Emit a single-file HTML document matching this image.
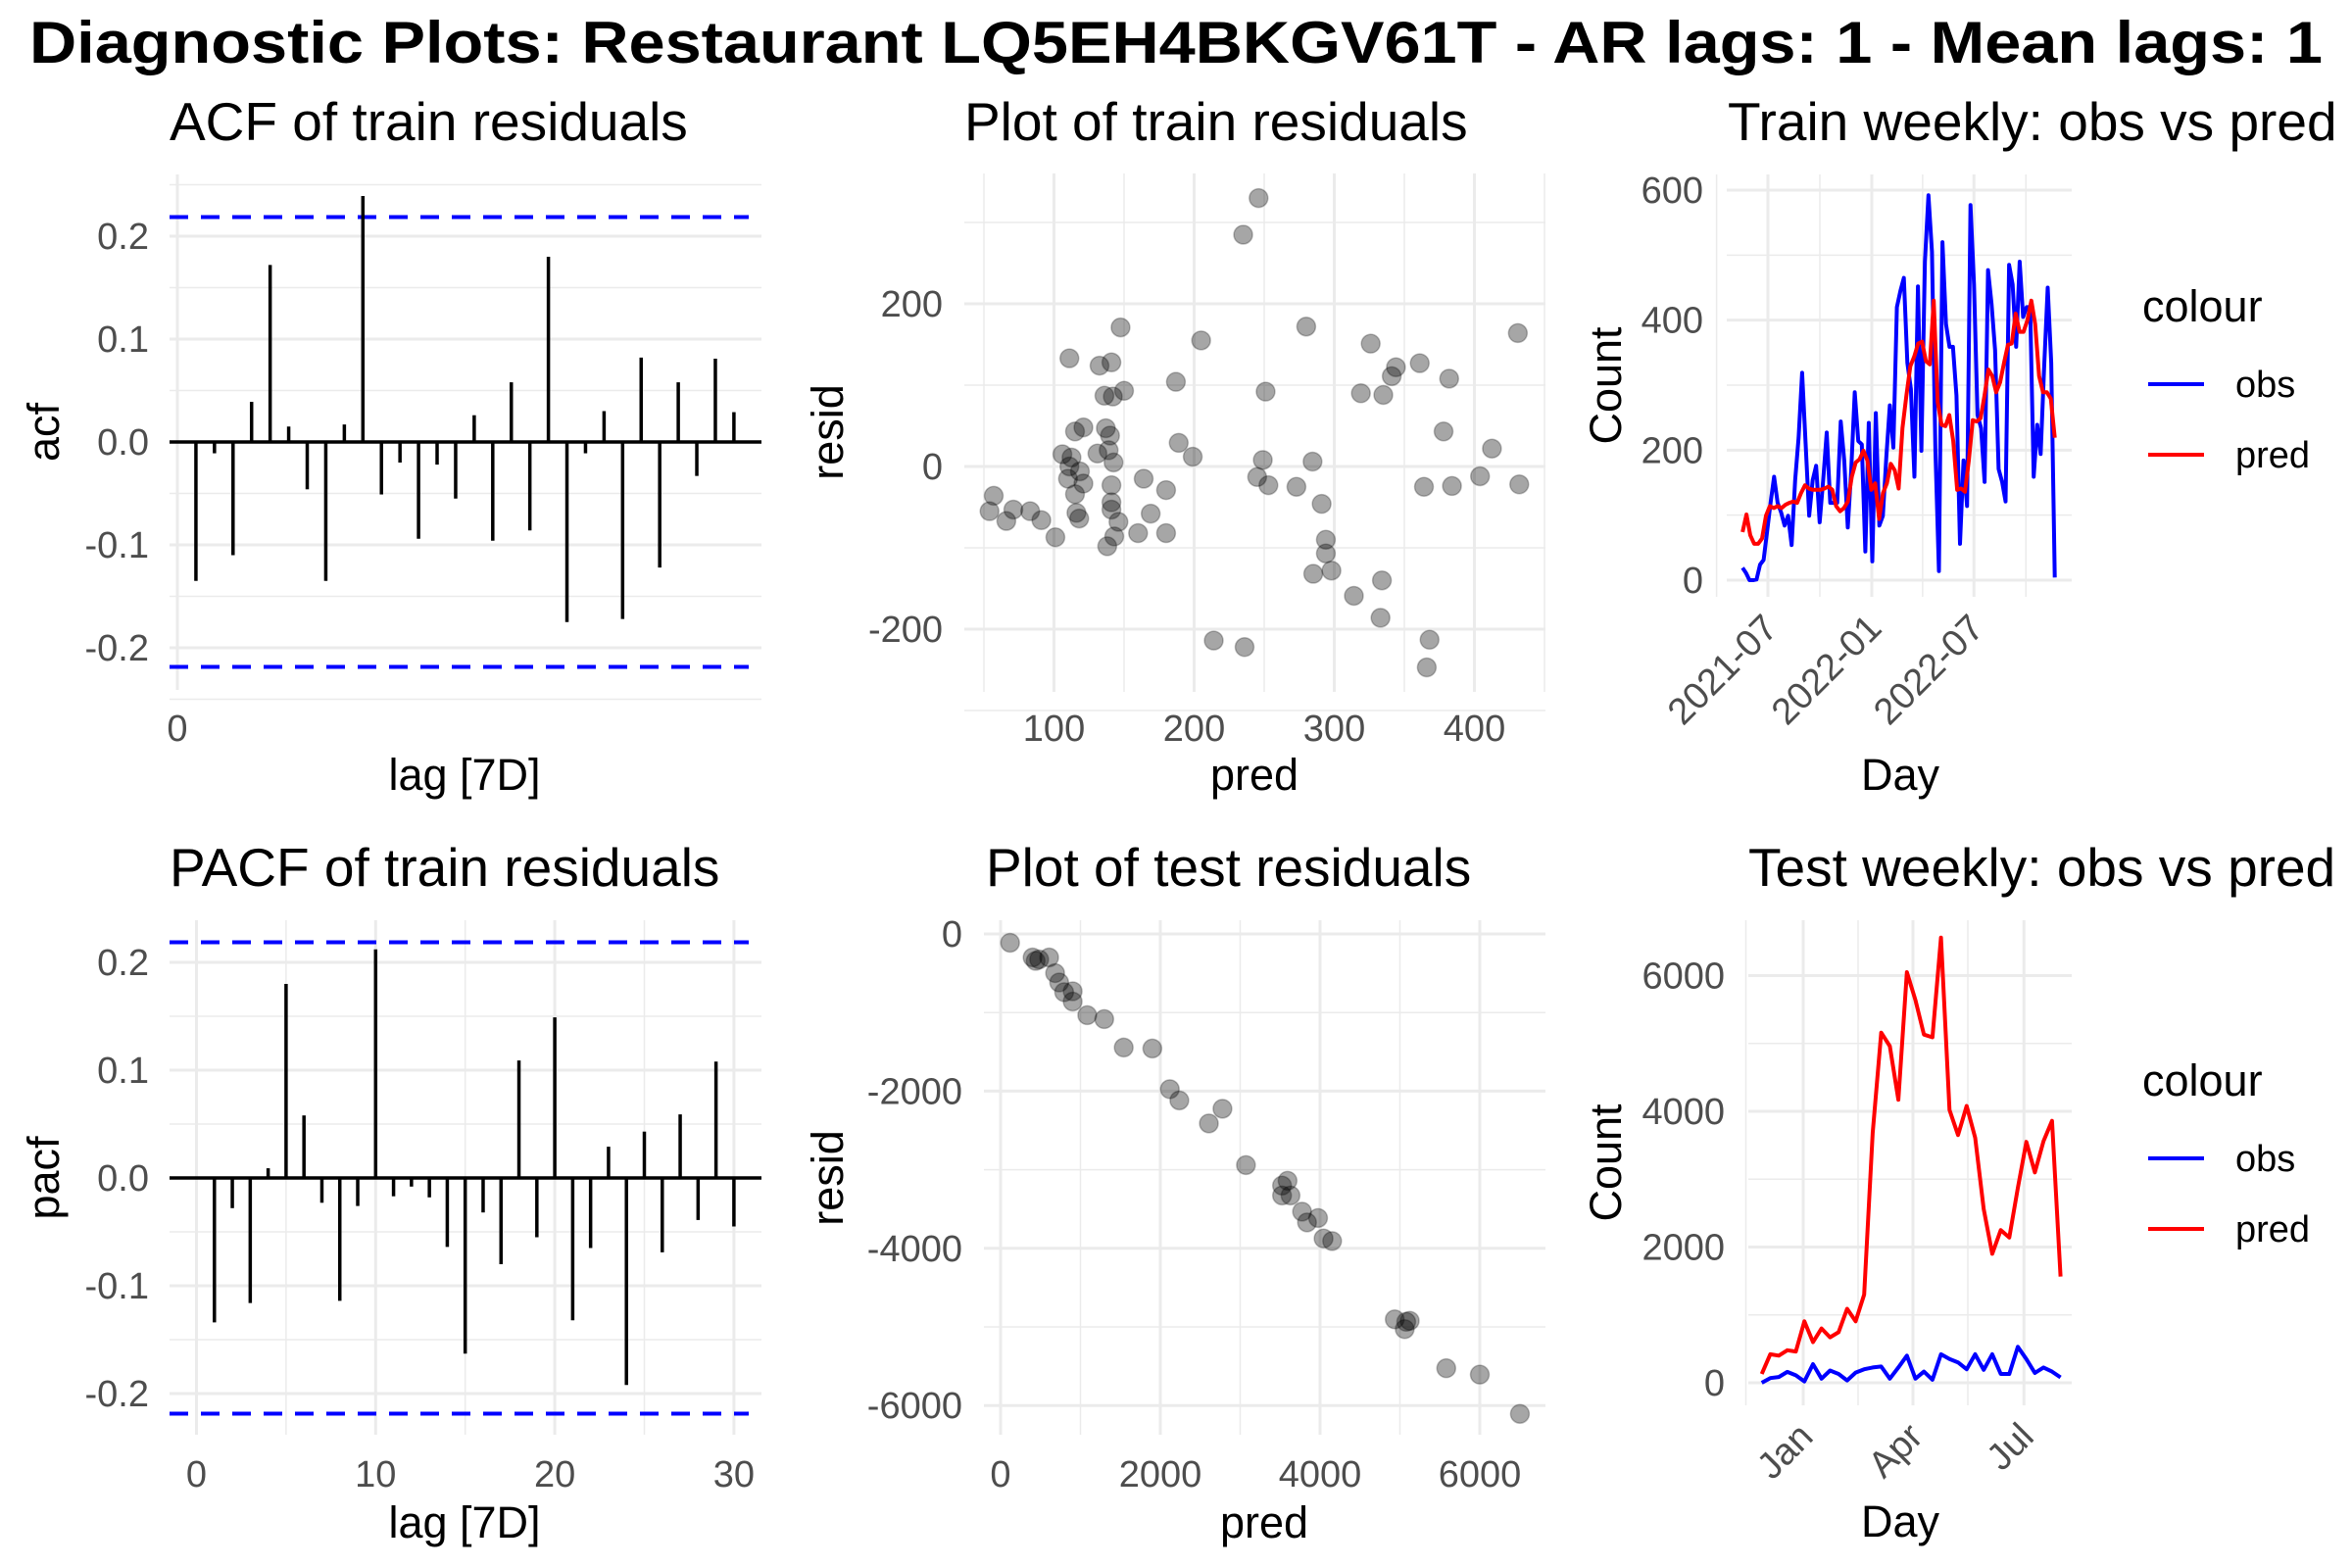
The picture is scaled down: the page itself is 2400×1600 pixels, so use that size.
<!DOCTYPE html>
<html><head><meta charset="utf-8">
<style>
html,body{margin:0;padding:0;background:#fff;}
svg{display:block;font-family:"Liberation Sans",Arial,sans-serif;}
</style></head>
<body>
<svg id="root" width="2400" height="1600" viewBox="0 0 2400 1600" xmlns="http://www.w3.org/2000/svg">
<rect width="2400" height="1600" fill="#ffffff"/>
<text x="1200" y="64" text-anchor="middle" font-size="60" font-weight="bold" textLength="2340" lengthAdjust="spacingAndGlyphs">Diagnostic Plots: Restaurant LQ5EH4BKGV61T - AR lags: 1 - Mean lags: 1</text>
</svg>
<script>
// ---------- DATA ----------
const acfLags = [1,2,3,4,5,6,7,8,9,10,11,12,13,14,15,16,17,18,19,20,21,22,23,24,25,26,27,28,29,30];
const acfValues = [-0.135,-0.011,-0.110,0.039,0.172,0.015,-0.046,-0.135,0.017,0.239,-0.051,-0.020,-0.094,-0.022,-0.055,0.026,-0.096,0.058,-0.086,0.180,-0.175,-0.011,0.030,-0.172,0.082,-0.122,0.058,-0.033,0.081,0.029];
const pacfValues = [-0.134,-0.028,-0.116,0.009,0.180,0.058,-0.023,-0.114,-0.026,0.212,-0.017,-0.008,-0.018,-0.064,-0.163,-0.032,-0.080,0.109,-0.055,0.149,-0.132,-0.065,0.029,-0.192,0.043,-0.069,0.059,-0.039,0.108,-0.045];
const ciBound = 0.2186;
const acfYTicks = [-0.2,-0.1,0.0,0.1,0.2];
const acfYTickLabels = ["-0.2","-0.1","0.0","0.1","0.2"];
const pacfXTicks = [0,10,20,30];

const trainPred = [246,235,147.5,205,280,326,431,111,132.5,141,361,344,341,382,187,150,251,136,142,319,335,121,115,137,140,378,189,131,139,106,112.5,199,249,284.5,412.5,142.5,111,118.5,110,121,164,245,253,273,404,364,384,432,141,180,115,57,291,141,141,54,71,83,116,169,66,91,118,146,101,160,180,143,138,294,294,298,285,334,314,333,214,236,368,366];
const trainResid = [330,285,171,155,172,151,164,133,124,128,127,122,111,108,104,93,92,87,86,90,88,48,43,47,38,43,29,16,20,15,11,12,8,6,22,5,0,-6,-15,-21,-15,-13,-23,-25,-12,-25,-24,-22,-23,-29,-34,-36,-46,-44,-53,-55,-53,-55,-57,-58,-67,-66,-64,-68,-87,-82,-82,-86,-98,-90,-107,-128,-132,-140,-159,-186,-214,-222,-213,-247];
const trainXTicks = [100,200,300,400];
const trainYTicks = [-200,0,200];

const testPred = [119,401,439,483,608,683,734,796,903,903,1085,1298,1542,1900,2119,2238,2608,2778,3072,3524,3593,3524,3630,3775,3837,3975,4044,4151,4935,5060,5079,5123,5580,6000,6502];
const testResid = [-112,-299,-343,-324,-299,-498,-617,-741,-729,-860,-1034,-1084,-1445,-1458,-1975,-2118,-2411,-2224,-2941,-3202,-3140,-3327,-3327,-3533,-3670,-3614,-3875,-3907,-4904,-5028,-4935,-4922,-5526,-5607,-6106];
const testXTicks = [0,2000,4000,6000];
const testYTicks = [-6000,-4000,-2000,0];

const trainStart = "2021-05-17", trainEnd = "2022-11-21";
const trainObs = [19,11,0,0,1,24,31,74,119,159,119,104,84,99,54,154,219,319,209,99,154,176,89,154,227,119,119,119,244,184,81,169,289,214,209,44,242,29,257,84,99,189,269,204,420,445,465,334,294,159,452,199,490,592,505,199,14,520,394,359,359,284,56,184,114,577,455,254,234,151,477,425,354,171,151,121,485,455,359,490,405,420,420,159,239,194,329,450,334,4];
const trainPredLine = [74,101,69,56,56,64,99,114,111,114,111,116,119,121,119,134,146,141,139,139,139,141,144,139,114,106,111,121,159,181,186,199,184,139,149,94,134,149,179,169,141,234,284,329,344,364,367,337,332,430,274,239,237,254,214,139,141,136,184,246,244,249,284,324,314,289,304,334,362,364,410,382,382,400,430,394,314,289,289,279,219];
const trainDateTicks = ["2021-07-01","2022-01-01","2022-07-01"];
const trainDateLabels = ["2021-07","2022-01","2022-07"];
const trainCountTicks = [0,200,400,600];

const testStart = "2022-11-28", testEnd = "2023-07-31";
const testObs = [0,70,85,160,110,20,275,60,180,130,35,150,200,225,240,60,225,400,60,165,45,420,350,300,200,420,190,420,130,130,530,350,145,225,165,80];
const testPredLine = [130,420,400,480,460,905,600,800,670,745,1090,905,1300,3680,5160,4960,4170,6050,5640,5130,5090,6560,4020,3650,4080,3610,2560,1900,2250,2140,2870,3550,3100,3560,3860,1565];
const testDateTicks = ["2023-01-01","2023-04-01","2023-07-01"];
const testDateLabels = ["Jan","Apr","Jul"];
const testCountTicks = [0,2000,4000,6000];

// ---------- HELPERS ----------
const NS = "http://www.w3.org/2000/svg";
const root = document.getElementById("root");
function mk(tag, attrs, parent) {
  const e = document.createElementNS(NS, tag);
  for (const k in attrs) e.setAttribute(k, attrs[k]);
  (parent || root).appendChild(e);
  return e;
}
function txt(s, attrs, parent) { const e = mk("text", attrs, parent); e.textContent = s; return e; }
const DAY = 86400000;
function dnum(s) { return Date.parse(s + "T00:00:00Z") / DAY; }
const GRID = "#ebebeb";
const TICK = "#4d4d4d";
const TICKFS = 38;

function panelGroup(name) {
  const g = mk("g", {});
  
  
  return g;
}
function hGrid(g, y, x0, x1, major) {
  const l = mk("line", {x1:x0, x2:x1, y1:y, y2:y, stroke:GRID, "stroke-width": major ? 3 : 1.5}, g);
  
  
}
function vGrid(g, x, y0, y1, major) {
  const l = mk("line", {x1:x, x2:x, y1:y0, y2:y1, stroke:GRID, "stroke-width": major ? 3 : 1.5}, g);
  
  
}
function yLabel(g, s, x, y) {
  const t = txt(s, {x:x, y:y + 13, "text-anchor":"end", "font-size":TICKFS, fill:TICK}, g);
  
  
}
function xLabel(g, s, x, y) {
  const t = txt(s, {x:x, y:y, "text-anchor":"middle", "font-size":TICKFS, fill:TICK}, g);
  
  
}
function subtitle(g, s, x, y) {
  const t = txt(s, {x:x, y:y, "font-size":55, fill:"#000"}, g);
  
  
}
function xTitle(g, s, x, y) {
  const t = txt(s, {x:x, y:y, "text-anchor":"middle", "font-size":45, fill:"#000"}, g);
  
  
}
function yTitle(g, s, x, y) {
  const t = txt(s, {x:x, y:y, "text-anchor":"middle", "font-size":45, fill:"#000", transform:"rotate(-90 " + x + " " + y + ")"}, g);
  
  
}

// ---------- ACF PANEL ----------
(function(){
  const g = panelGroup("acf-panel");
  const L=173, R=777, T=178, B=704;
  const x = l => 181 + l * 18.93;
  const y = v => 451 - v * 1050;
  for (let v=-0.25; v<=0.251; v+=0.1) hGrid(g, y(v), L, R, false);
  acfYTicks.forEach(v => hGrid(g, y(v), L, R, true));
  vGrid(g, x(0), T, B, true);
  acfYTicks.forEach((v,i) => yLabel(g, acfYTickLabels[i], 152, y(v)));
  xLabel(g, "0", x(0), 756);
  [ciBound, -ciBound].forEach(c => {
    const d = mk("line", {x1:L, x2:764, y1:y(c), y2:y(c), stroke:"#0000ff", "stroke-width":4, "stroke-dasharray":"19 13"}, g);
    
    
  });
  acfValues.forEach((v,i) => {
    const b = mk("line", {x1:x(acfLags[i]), x2:x(acfLags[i]), y1:y(0), y2:y(v), stroke:"#000", "stroke-width":3.5}, g);
    
    
  });
  const z = mk("line", {x1:L, x2:R, y1:y(0), y2:y(0), stroke:"#000", "stroke-width":3.5}, g);
  
  
  subtitle(g, "ACF of train residuals", 173, 143);
  xTitle(g, "lag [7D]", 474, 806);
  yTitle(g, "acf", 60, 441);
})();

// ---------- PACF PANEL ----------
(function(){
  const g = panelGroup("pacf-panel");
  const L=173, R=777, T=939, B=1464;
  const x = l => 200.5 + l * 18.28;
  const y = v => 1202 - v * 1100;
  for (let v=-0.15; v<=0.151; v+=0.1) hGrid(g, y(v), L, R, false);
  acfYTicks.forEach(v => hGrid(g, y(v), L, R, true));
  [5,15,25].forEach(l => vGrid(g, x(l), T, B, false));
  pacfXTicks.forEach(l => vGrid(g, x(l), T, B, true));
  acfYTicks.forEach((v,i) => yLabel(g, acfYTickLabels[i], 152, y(v)));
  pacfXTicks.forEach(l => xLabel(g, String(l), x(l), 1517));
  [ciBound, -ciBound].forEach(c => {
    const d = mk("line", {x1:L, x2:764, y1:y(c), y2:y(c), stroke:"#0000ff", "stroke-width":4, "stroke-dasharray":"19 13"}, g);
    
    
  });
  pacfValues.forEach((v,i) => {
    const b = mk("line", {x1:x(acfLags[i]), x2:x(acfLags[i]), y1:y(0), y2:y(v), stroke:"#000", "stroke-width":3.5}, g);
    
    
  });
  const z = mk("line", {x1:L, x2:R, y1:y(0), y2:y(0), stroke:"#000", "stroke-width":3.5}, g);
  
  
  subtitle(g, "PACF of train residuals", 173, 904);
  xTitle(g, "lag [7D]", 474, 1569);
  yTitle(g, "pacf", 60, 1202);
})();

// ---------- TRAIN RESIDUAL SCATTER ----------
(function(){
  const g = panelGroup("train-residuals-panel");
  const L=984, R=1577, T=177, B=706;
  const x = p => 932.5 + p * 1.43;
  const y = r => 476 - r * 0.83;
  [-300,-100,100,300].forEach(v => hGrid(g, y(v), L, R, false));
  trainYTicks.forEach(v => hGrid(g, y(v), L, R, true));
  [50,150,250,350,450].forEach(v => vGrid(g, x(v), T, B, false));
  trainXTicks.forEach(v => vGrid(g, x(v), T, B, true));
  trainYTicks.forEach(v => yLabel(g, String(v), 962, y(v)));
  trainXTicks.forEach(v => xLabel(g, String(v), x(v), 756));
  trainPred.forEach((p,i) => {
    const c = mk("circle", {cx:x(p), cy:y(trainResid[i]), r:9.5, fill:"rgba(0,0,0,0.35)", stroke:"rgba(0,0,0,0.25)", "stroke-width":1.5}, g);
    
    
  });
  subtitle(g, "Plot of train residuals", 984, 143);
  xTitle(g, "pred", 1280, 806);
  yTitle(g, "resid", 860, 441);
})();

// ---------- TEST RESIDUAL SCATTER ----------
(function(){
  const g = panelGroup("test-residuals-panel");
  const L=1004, R=1577, T=939, B=1464;
  const x = p => 1021 + p * 0.0815;
  const y = r => 953 - r * 0.0802;
  [-5000,-3000,-1000].forEach(v => hGrid(g, y(v), L, R, false));
  testYTicks.forEach(v => hGrid(g, y(v), L, R, true));
  [1000,3000,5000].forEach(v => vGrid(g, x(v), T, B, false));
  testXTicks.forEach(v => vGrid(g, x(v), T, B, true));
  testYTicks.forEach(v => yLabel(g, String(v), 982, y(v)));
  testXTicks.forEach(v => xLabel(g, String(v), x(v), 1517));
  testPred.forEach((p,i) => {
    const c = mk("circle", {cx:x(p), cy:y(testResid[i]), r:9.5, fill:"rgba(0,0,0,0.35)", stroke:"rgba(0,0,0,0.25)", "stroke-width":1.5}, g);
    
    
  });
  subtitle(g, "Plot of test residuals", 1006, 904);
  xTitle(g, "pred", 1290, 1569);
  yTitle(g, "resid", 860, 1202);
})();

// ---------- WEEKLY LINE PANELS ----------
function weeklyPanel(opts) {
  const g = panelGroup(opts.name);
  const {L,R,T,B} = opts;
  const x = d => opts.x0 + (d - dnum(opts.origin)) * opts.pxPerDay;
  const y = v => opts.y0 - v * opts.pxPerUnit;
  opts.minorY.forEach(v => hGrid(g, y(v), L, R, false));
  opts.yTicks.forEach(v => hGrid(g, y(v), L, R, true));
  opts.minorX.forEach(d => vGrid(g, x(dnum(d)), T, B, false));
  opts.xTicks.forEach(d => vGrid(g, x(dnum(d)), T, B, true));
  opts.yTicks.forEach(v => yLabel(g, String(v), opts.labelRight, y(v)));
  opts.xTicks.forEach((d,i) => {
    const px = x(dnum(d)) + 12, py = B + 34;
    const t = txt(opts.xLabels[i], {x:px, y:py, "text-anchor":"end", "font-size":TICKFS, fill:TICK, transform:"rotate(-45 " + px + " " + py + ")"}, g);
    
    
  });
  const s0 = dnum(opts.start), s1 = dnum(opts.end);
  function series(vals, color, nm) {
    const n = vals.length;
    const pts = vals.map((v,i) => x(s0 + (s1 - s0) * i / (n - 1)).toFixed(1) + "," + y(v).toFixed(1)).join(" ");
    const p = mk("polyline", {points:pts, fill:"none", stroke:color, "stroke-width":4, "stroke-linejoin":"round"}, g);
    
    
  }
  series(opts.obs, "#0000ff", "obs-line");
  series(opts.pred, "#ff0000", "pred-line");
  subtitle(g, opts.title, opts.titleX, opts.titleY);
  xTitle(g, "Day", 1939, opts.dayY);
  yTitle(g, "Count", 1654, (T + B) / 2);
  // legend
  const lg = mk("g", {}, g);
  
  
  const lt = txt("colour", {x:2186, y:opts.legY, "font-size":45, fill:"#000"}, lg);
  
  
  [["obs","#0000ff",opts.legY + 64],["pred","#ff0000",opts.legY + 136]].forEach(([s,c,ly]) => {
    const k = mk("line", {x1:2192, x2:2249, y1:ly, y2:ly, stroke:c, "stroke-width":4}, lg);
    
    
    const t = txt(s, {x:2281, y:ly + 13, "font-size":38, fill:"#000"}, lg);
    
    
  });
}

weeklyPanel({name:"train-weekly-panel", L:1762, R:2114, T:178, B:609,
  origin:"2021-07-01", x0:1804, pxPerDay:106/184, y0:592, pxPerUnit:398/600, labelRight:1738,
  yTicks:trainCountTicks, minorY:[100,300,500],
  xTicks:trainDateTicks, xLabels:trainDateLabels, minorX:["2021-04-01","2021-10-01","2022-04-01","2022-10-01"],
  start:trainStart, end:trainEnd, obs:trainObs, pred:trainPredLine,
  title:"Train weekly: obs vs pred", titleX:1763, titleY:143, dayY:806, legY:328});

weeklyPanel({name:"test-weekly-panel", L:1784, R:2114, T:939, B:1434,
  origin:"2023-01-01", x0:1840, pxPerDay:112/90, y0:1411, pxPerUnit:138.5/2000, labelRight:1760,
  yTicks:testCountTicks, minorY:[1000,3000,5000],
  xTicks:testDateTicks, xLabels:testDateLabels, minorX:["2022-11-15","2023-02-15","2023-05-16"],
  start:testStart, end:testEnd, obs:testObs, pred:testPredLine,
  title:"Test weekly: obs vs pred", titleX:1784, titleY:904, dayY:1568, legY:1118});
</script>
</body></html>
